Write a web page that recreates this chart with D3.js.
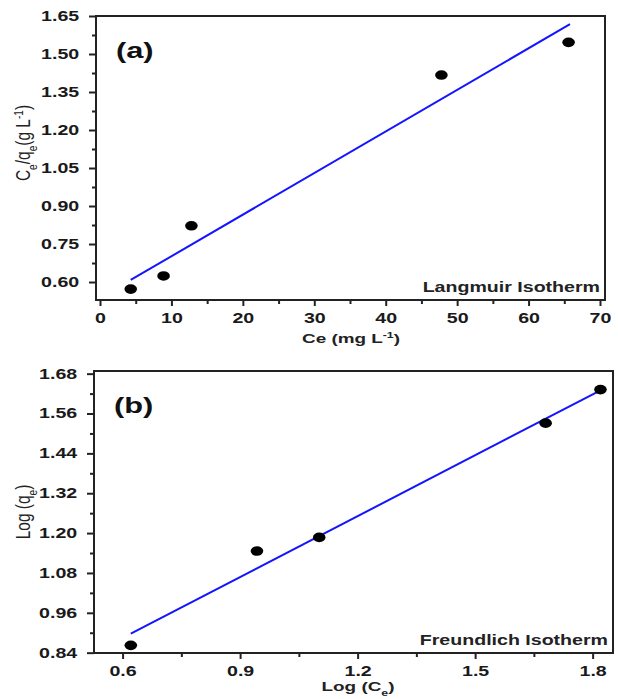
<!DOCTYPE html>
<html><head><meta charset="utf-8">
<script src="https://cdn.jsdelivr.net/npm/d3@7"></script>
<style>
body{margin:0;background:#fff;}
svg text{font-family:"Liberation Sans",Arial,sans-serif;}
</style></head>
<body><svg id="c" width="618" height="699"></svg>
<script>
// Panel (a) Langmuir
const langCe = [4.3, 8.9, 12.8, 47.8, 65.6];
const langCq = [0.572, 0.624, 0.822, 1.417, 1.546];
const langFitX = [4.3, 65.8];
const langFitY = [0.608, 1.618];
const langXTicks = [0, 10, 20, 30, 40, 50, 60, 70];
const langYTicks = [0.60, 0.75, 0.90, 1.05, 1.20, 1.35, 1.50, 1.65];
// Panel (b) Freundlich
const freLogCe = [0.621, 0.943, 1.102, 1.680, 1.820];
const freLogQe = [0.862, 1.146, 1.187, 1.531, 1.632];
const freFitX = [0.621, 1.820];
const freFitY = [0.897, 1.630];
const freXTicks = [0.6, 0.9, 1.2, 1.5, 1.8];
const freYTicks = [0.84, 0.96, 1.08, 1.20, 1.32, 1.44, 1.56, 1.68];

const SX = 1.4;
const svg = d3.select("#c");

function panel(o){
  const g = svg.append("g");
  const x = d3.scaleLinear().domain(o.xd).range([o.L, o.R]);
  const y = d3.scaleLinear().domain(o.yd).range([o.B, o.T]);
  const xMinor = [], yMinor = [];
  for (let i=0;i<o.xt.length-1;i++) xMinor.push((o.xt[i]+o.xt[i+1])/2);
  for (let i=0;i<o.yt.length-1;i++) yMinor.push((o.yt[i]+o.yt[i+1])/2);
  g.append("g").attr("transform",`translate(0,${o.B})`)
    .call(d3.axisBottom(x).tickValues(xMinor).tickSize(4).tickFormat(""))
    .call(a=>a.select(".domain").remove());
  g.append("g").attr("transform",`translate(${o.L},0)`)
    .call(d3.axisLeft(y).tickValues(yMinor).tickSize(4).tickFormat(""))
    .call(a=>a.select(".domain").remove());
  const xa = g.append("g").attr("transform",`translate(0,${o.B})`)
    .call(d3.axisBottom(x).tickValues(o.xt).tickSize(6).tickPadding(7).tickFormat(o.xf));
  const ya = g.append("g").attr("transform",`translate(${o.L},0)`)
    .call(d3.axisLeft(y).tickValues(o.yt).tickSize(7).tickPadding(5).tickFormat(o.yf));
  [xa, ya].forEach(a=>{
    a.select(".domain").remove();
    a.selectAll(".tick text").attr("font-size",14).attr("font-weight","bold").attr("fill","#1a1a1a")
      .attr("transform",`scale(${SX},1)`);
  });
  g.selectAll(".tick line").attr("stroke","#222").attr("stroke-width",2);
  g.append("rect").attr("x",o.L).attr("y",o.T).attr("width",o.R-o.L).attr("height",o.B-o.T)
    .attr("fill","none").attr("stroke","#222").attr("stroke-width",2);
  g.append("line").attr("x1",x(o.fx[0])).attr("y1",y(o.fy[0]))
    .attr("x2",x(o.fx[1])).attr("y2",y(o.fy[1]))
    .attr("stroke","#1414ff").attr("stroke-width",2);
  g.selectAll("ellipse").data(o.px).join("ellipse")
    .attr("cx",(d)=>x(d)).attr("cy",(d,i)=>y(o.py[i]))
    .attr("rx",6.3).attr("ry",4.8).attr("fill","#000");
  g.append("text").attr("transform",`translate(${o.L+20},${o.T+42}) scale(${SX},1)`)
    .attr("font-size",22).attr("font-weight","bold").attr("fill","#111").text(o.lab);
  g.append("text").attr("transform",`translate(${o.R-5},${o.B-8}) scale(${SX},1)`)
    .attr("text-anchor","end").attr("font-size",14).attr("font-weight","bold").attr("fill","#222").text(o.ann);
  return {g,x,y};
}

panel({xd:[-0.56,70.7], yd:[0.529,1.65], L:96, R:605, T:16, B:300,
  xt:langXTicks, yt:langYTicks, xf:d3.format("d"), yf:d3.format(".2f"),
  fx:langFitX, fy:langFitY, px:langCe, py:langCq, lab:"(a)", ann:"Langmuir Isotherm"});
panel({xd:[0.527,1.852], yd:[0.839,1.688], L:94, R:613, T:371, B:653,
  xt:freXTicks, yt:freYTicks, xf:d3.format(".1f"), yf:d3.format(".2f"),
  fx:freFitX, fy:freFitY, px:freLogCe, py:freLogQe, lab:"(b)", ann:"Freundlich Isotherm"});

function title(transform, parts, size, weight){
  const t = svg.append("text").attr("transform",transform)
    .attr("text-anchor","middle").attr("font-size",size).attr("font-weight",weight).attr("fill","#222");
  parts.forEach(p=>{
    const s = t.append("tspan").text(p.t);
    if (p.sub) s.attr("font-size",size*0.65).attr("baseline-shift","sub");
    if (p.sup) s.attr("font-size",size*0.65).attr("baseline-shift","super");
  });
}
title(`translate(351,343) scale(${SX},1)`, [{t:"Ce (mg L"},{t:"-1",sup:true},{t:")"}], 13.5, "bold");
title(`translate(358,691) scale(${SX},1)`, [{t:"Log (C"},{t:"e",sub:true},{t:")"}], 13.5, "bold");
title(`translate(30,143) scale(1.25,1) rotate(-90)`, [{t:"C"},{t:"e",sub:true},{t:"/q"},{t:"e",sub:true},{t:"(g L"},{t:"-1",sup:true},{t:")"}], 15.5, "normal");
title(`translate(30,512) scale(1.25,1) rotate(-90)`, [{t:"Log (q"},{t:"e",sub:true},{t:")"}], 15.5, "normal");
</script></body></html>
